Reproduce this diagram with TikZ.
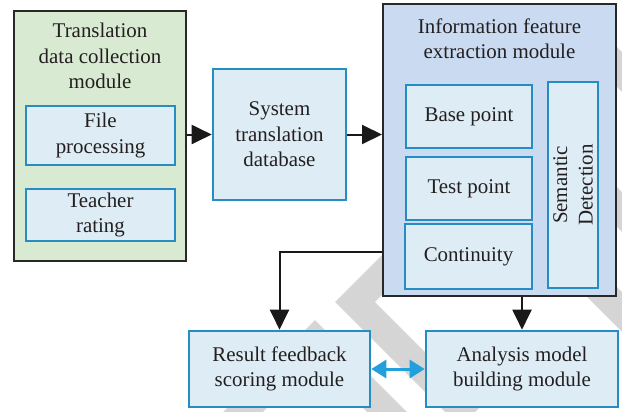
\documentclass[tikz,border=0pt]{standalone}
\usepackage{fontspec}
\setmainfont{Liberation Serif}
\usetikzlibrary{arrows.meta}
\definecolor{txt}{RGB}{35,31,32}
\definecolor{greenfill}{RGB}{217,234,211}
\definecolor{infofill}{RGB}{201,218,241}
\definecolor{lightfill}{RGB}{222,237,245}
\definecolor{blueline}{RGB}{38,140,196}
\definecolor{dblarrow}{RGB}{33,160,219}
\definecolor{wm}{RGB}{213,213,213}
\definecolor{frame}{RGB}{40,40,40}
\tikzset{
  lbl/.style={font=\fontsize{21}{25.5}\selectfont, text=txt, align=center},
  outerbox/.style={draw=frame, line width=2bp, inner sep=0pt},
  innerbox/.style={draw=blueline, fill=lightfill, line width=2.6bp, inner sep=0pt, lbl},
  arr/.style={draw=black!90, line width=2bp, -{Triangle[length=20bp,width=19bp]}},
  dbl/.style={draw=dblarrow, line width=3bp, {Triangle[length=15bp,width=18bp]}-{Triangle[length=15bp,width=18bp]}},
  band/.style={draw=wm, line width=28bp, line cap=butt, line join=miter}
}
\begin{document}
\begin{tikzpicture}[x=1bp,y=-1bp]
\useasboundingbox (0,0) rectangle (622,411);
% watermark
\begin{scope}
\clip (0,0) rectangle (622,411);
\draw[band] (415,242) -- (355,302) -- (470,417);
\draw[band] (225,430) -- (315,340) -- (405,430);
\draw[band] (585,275) -- (650,340);
\draw[band] (590,180) -- (650,240);
\draw[band] (590,40) -- (650,100);
\end{scope}
% left module
\node[outerbox, fill=greenfill, minimum width=172bp, minimum height=250bp] (green) at (100,136) {};
\node[lbl] (greentitle) at (100,56) {Translation\\data collection\\module};
\node[innerbox, minimum width=149bp, minimum height=59bp] (file) at (100.5,135.5) {File\\processing};
\node[innerbox, minimum width=149bp, minimum height=52bp] (teacher) at (100.5,215) {Teacher\\rating};
% database
\node[innerbox, minimum width=133bp, minimum height=131bp] (system) at (279.5,134.5) {System\\translation\\database};
% info module
\node[outerbox, fill=infofill, minimum width=233bp, minimum height=292bp] (info) at (499.5,150) {};
\node[lbl] (infotitle) at (499.5,39) {Information feature\\extraction module};
\node[innerbox, minimum width=126bp, minimum height=63bp] (base) at (469,116.5) {Base point};
\node[innerbox, minimum width=126bp, minimum height=63bp] (test) at (469,188.5) {Test point};
\node[innerbox, minimum width=127bp, minimum height=65bp] (cont) at (468.5,256.5) {Continuity};
\node[innerbox, minimum width=50bp, minimum height=206bp] (sem) at (573,185) {};
\node[lbl, rotate=90] (semtext) at (sem.center) {Semantic\\Detection};
% bottom modules
\node[innerbox, minimum width=181bp, minimum height=76bp] (result) at (279.5,369) {Result feedback\\scoring module};
\node[innerbox, minimum width=192bp, minimum height=76bp] (analysis) at (522,369) {Analysis model\\building module};
% connectors
\draw[arr] (green.east |- system.west) -- (system.west);
\draw[arr] (system.east) -- (system.east -| info.west);
\coordinate (infoleft) at (383,252);
\draw[arr] (infoleft) -| (result.north);
\draw[arr] (info.south -| analysis.north) -- (analysis.north);
\draw[dbl] (result.east) -- (analysis.west);
\end{tikzpicture}
\end{document}
